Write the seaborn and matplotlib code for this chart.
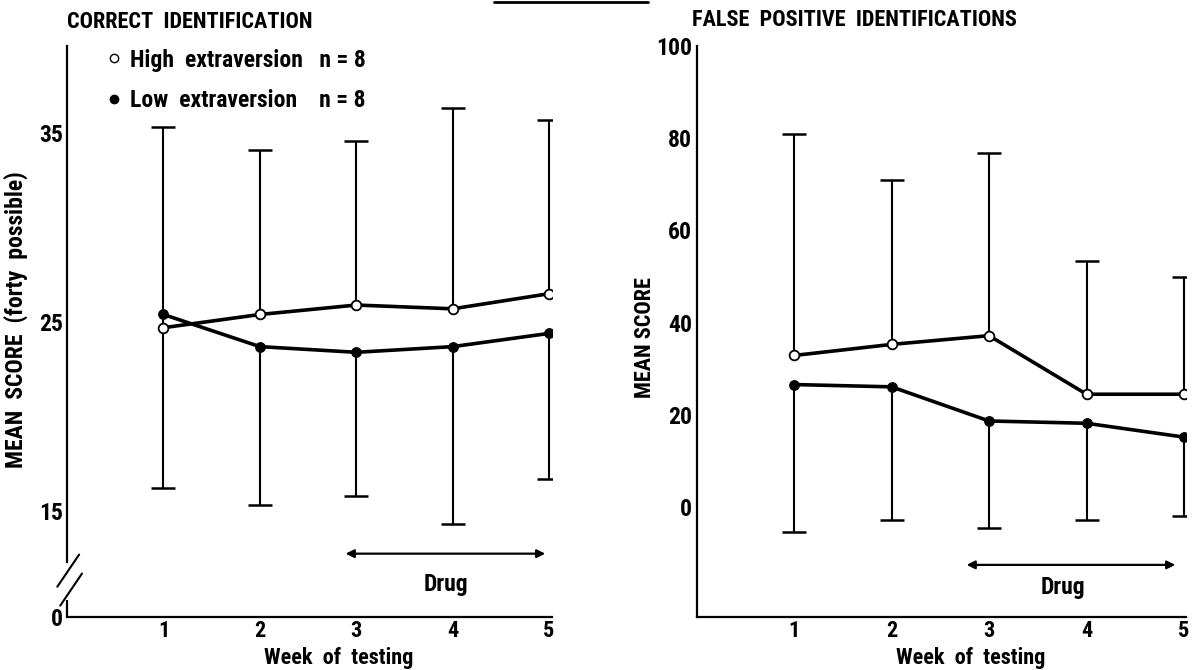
import numpy as np
import pandas as pd
import matplotlib
matplotlib.use("Agg")
import matplotlib.pyplot as plt
from matplotlib import font_manager as fm
from matplotlib.lines import Line2D
import seaborn as sns

# ---- data -------------------------------------------------------------
weeks = [1, 2, 3, 4, 5]
week_labels = ["1", "2", "3", "4", "5"]
groups = ["High extraversion", "Low extraversion"]
group_n = [8, 8]

# Correct identifications (forty possible)
correct_high = [24.7, 25.4, 25.9, 25.7, 26.5]
correct_low = [25.4, 23.7, 23.4, 23.7, 24.4]
correct_high_upper = [35.3, 34.1, 34.6, 36.3, 35.7]
correct_low_lower = [16.2, 15.3, 15.8, 14.3, 16.7]

# False positive identifications
false_high = [32.9, 35.3, 37.2, 24.5, 24.5]
false_low = [26.6, 26.1, 18.7, 18.2, 15.2]
false_high_upper = [81.0, 71.0, 76.9, 53.4, 50.0]
false_low_lower = [-5.4, -2.8, -4.4, -2.8, -2.0]

drug_weeks_left = [2.89, 4.96]
drug_weeks_right = [2.77, 4.91]

# ---- font -------------------------------------------------------------
def pick_font():
    for fam, stretch in [("Roboto Condensed", "normal"),
                         ("Liberation Sans Narrow", "normal"),
                         ("Noto Sans", "condensed"),
                         ("Open Sans", "condensed"),
                         ("DejaVu Sans", "condensed")]:
        try:
            path = fm.findfont(fm.FontProperties(family=fam, stretch=stretch),
                               fallback_to_default=False)
        except Exception:
            continue
        low = path.lower()
        if "condensed" in low or "narrow" in low:
            return fam, stretch, "bold"
    return "Roboto", "normal", "medium"

FAMILY, STRETCH, WEIGHT = pick_font()

sns.set_theme(style="white")
plt.rcParams["font.family"] = [FAMILY, "DejaVu Sans"]
plt.rcParams["font.stretch"] = STRETCH
plt.rcParams["font.weight"] = WEIGHT
plt.rcParams["text.color"] = "black"
plt.rcParams["axes.labelcolor"] = "black"
plt.rcParams["axes.labelweight"] = WEIGHT
plt.rcParams["xtick.color"] = "black"
plt.rcParams["ytick.color"] = "black"

FS = 17
FS_SMALL = 16
LW_AX = 1.6

fig = plt.figure(figsize=(12, 6.7), dpi=100)
fig.patch.set_facecolor("white")

W, H = 1200.0, 670.0
AX_BOTTOM, AX_TOP = 617, 46
ax1 = fig.add_axes([67 / W, 1 - AX_BOTTOM / H, 485 / W, (AX_BOTTOM - AX_TOP) / H])
ax2 = fig.add_axes([696.5 / W, 1 - AX_BOTTOM / H, 489.5 / W, (AX_BOTTOM - AX_TOP) / H])


def draw_panel(ax, high, low, high_up, low_lo):
    # one-sided spread bars: upward from the high group, downward from the low group
    ax.vlines(weeks, high, high_up, color="black", lw=1.5, zorder=1)
    ax.vlines(weeks, low_lo, low, color="black", lw=1.5, zorder=1)
    ax.plot(weeks, high_up, ls="none", marker="_", ms=17, mew=1.8,
            color="black", zorder=1)
    ax.plot(weeks, low_lo, ls="none", marker="_", ms=17, mew=1.8,
            color="black", zorder=1)

    df = pd.DataFrame({
        "week": weeks * 2,
        "score": list(high) + list(low),
        "group": [groups[0]] * len(weeks) + [groups[1]] * len(weeks),
    })
    sns.lineplot(data=df[df.group == groups[0]], x="week", y="score", ax=ax,
                 color="black", lw=2.6, marker="o", ms=7,
                 markerfacecolor="white", markeredgecolor="black",
                 markeredgewidth=1.3, zorder=3, legend=False)
    sns.lineplot(data=df[df.group == groups[1]], x="week", y="score", ax=ax,
                 color="black", lw=2.6, marker="o", ms=7,
                 markerfacecolor="black", markeredgecolor="black",
                 zorder=3, legend=False)

    for side in ("top", "right"):
        ax.spines[side].set_visible(False)
    for side in ("left", "bottom"):
        ax.spines[side].set_color("black")
        ax.spines[side].set_linewidth(LW_AX)
    ax.set_xticks(weeks)
    ax.set_xticklabels(week_labels)
    ax.tick_params(axis="both", which="both", direction="in", length=8,
                   width=1.5, labelsize=FS)
    ax.tick_params(axis="x", pad=2, labelsize=FS_SMALL)
    ax.tick_params(axis="y", pad=3)
    ax.set_xlabel("Week  of  testing", fontsize=FS_SMALL)
    ax.xaxis.set_label_coords(0.56, -(647 - AX_BOTTOM) / (AX_BOTTOM - AX_TOP),
                              transform=ax.transAxes)
    ax.xaxis.label.set_va("top")
    ax.grid(False)


# ---- left panel: correct identifications ------------------------------
draw_panel(ax1, correct_high, correct_low, correct_high_upper, correct_low_lower)
Y0, Y1 = 9.4, 39.6
ax1.set_xlim(0, 5.03)
ax1.set_ylim(Y0, Y1)
ax1.set_yticks([Y0, 15, 25, 35])
ax1.set_yticklabels(["0", "15", "25", "35"])
ax1.yaxis.get_major_ticks()[0].tick1line.set_visible(False)
ax1.set_yticks([20, 30, Y1], minor=True)
ax1.set_ylabel("MEAN  SCORE  (forty  possible)", fontsize=FS)
ax1.yaxis.set_label_coords(-0.08, 0.52)

# broken axis below 15
ax1.spines["left"].set_bounds(12.3, Y1)
yx = ax1.get_yaxis_transform()
ax1.plot([0, 0], [Y0, 10.3], color="black", lw=LW_AX, transform=yx,
         clip_on=False, solid_capstyle="butt")
for yc, dx in [(11.85, 0.0), (10.85, 0.006)]:
    ax1.plot([-0.02 + dx, 0.025 + dx], [yc - 0.85, yc + 0.85], color="black",
             lw=1.5, transform=yx, clip_on=False)

# drug period
ax1.annotate("", xy=(drug_weeks_left[0], 12.75), xytext=(drug_weeks_left[1], 12.75),
             arrowprops=dict(arrowstyle="<|-|>", color="black", lw=1.6,
                             mutation_scale=12, shrinkA=0, shrinkB=0))
ax1.text(3.93, 11.1, "Drug", ha="center", va="center", fontsize=FS)

# legend
handles = [
    Line2D([], [], ls="none", marker="o", ms=6, mfc="white", mec="black", mew=1.0),
    Line2D([], [], ls="none", marker="o", ms=6, mfc="black", mec="black"),
]
labels = [f"High  extraversion   n = {group_n[0]}",
          f"Low  extraversion    n = {group_n[1]}"]
ax1.legend(handles, labels, loc="upper left", bbox_to_anchor=(0.062, 1.012),
           frameon=False, fontsize=FS, handlelength=0.6, handletextpad=0.4,
           labelspacing=0.75, borderaxespad=0)

fig.text(67 / W, 1 - 22 / H, "CORRECT  IDENTIFICATION", fontsize=FS_SMALL,
         ha="left", va="center")

# ---- right panel: false positives -------------------------------------
draw_panel(ax2, false_high, false_low, false_high_upper, false_low_lower)
ax2.set_xlim(0, 5.02)
ax2.set_ylim(-23.8, 100)
ax2.set_yticks([0, 20, 40, 60, 80, 100])
ax2.set_ylabel("MEAN SCORE", fontsize=FS_SMALL)
ax2.yaxis.set_label_coords(-0.082, 0.49)

ax2.annotate("", xy=(drug_weeks_right[0], -12.5), xytext=(drug_weeks_right[1], -12.5),
             arrowprops=dict(arrowstyle="<|-|>", color="black", lw=1.6,
                             mutation_scale=12, shrinkA=0, shrinkB=0))
ax2.text(3.76, -17.3, "Drug", ha="center", va="center", fontsize=FS)

fig.text(692 / W, 1 - 20 / H, "FALSE  POSITIVE  IDENTIFICATIONS", fontsize=FS_SMALL,
         ha="left", va="center")

# rule at the top edge
fig.add_artist(Line2D([494 / W, 648 / W], [1 - 2 / H, 1 - 2 / H],
                      color="black", lw=2.0, transform=fig.transFigure))

fig.savefig("out.png", dpi=100, facecolor="white")
